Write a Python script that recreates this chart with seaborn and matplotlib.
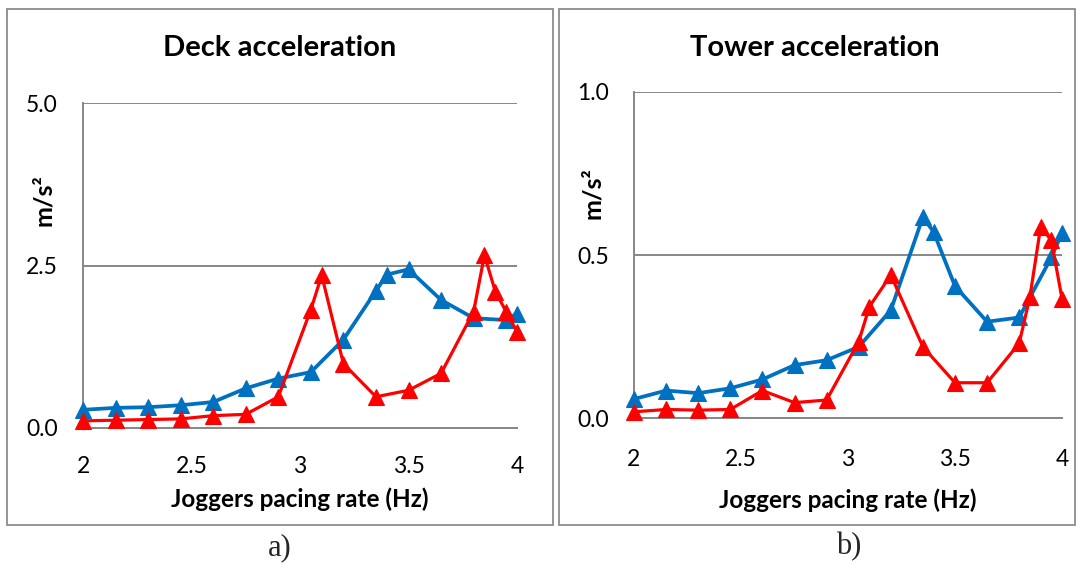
import matplotlib
matplotlib.use("Agg")
import matplotlib.pyplot as plt
import seaborn as sns
from matplotlib.patches import Rectangle

# ---- data ----
blue_x = [2.0, 2.15, 2.3, 2.45, 2.6, 2.75, 2.9, 3.05, 3.2, 3.35, 3.4, 3.5, 3.65, 3.8, 3.95, 4.0]
red_x = [2.0, 2.15, 2.3, 2.45, 2.6, 2.75, 2.9, 3.05, 3.1, 3.2, 3.35, 3.5, 3.65, 3.8, 3.85, 3.9, 3.95, 4.0]

deck_blue = [0.28, 0.31, 0.32, 0.35, 0.40, 0.61, 0.76, 0.86, 1.36, 2.11, 2.36, 2.44, 1.97, 1.69, 1.66, 1.76]
deck_red = [0.11, 0.12, 0.13, 0.14, 0.19, 0.21, 0.48, 1.82, 2.35, 0.99, 0.48, 0.58, 0.84, 1.79, 2.66, 2.10, 1.79, 1.48]

tower_blue = [0.059, 0.085, 0.077, 0.092, 0.119, 0.163, 0.178, 0.219, 0.331, 0.617, 0.571, 0.405, 0.296, 0.309, 0.493, 0.568]
tower_red = [0.020, 0.027, 0.025, 0.027, 0.085, 0.048, 0.056, 0.235, 0.342, 0.439, 0.219, 0.109, 0.109, 0.230, 0.372, 0.586, 0.546, 0.367]

titles = ["Deck acceleration", "Tower acceleration"]
xlabel = "Joggers pacing rate (Hz)"
ylabel = "m/s\u00b2"
x_ticks = [2, 2.5, 3, 3.5, 4]
x_ticklabels = ["2", "2.5", "3", "3.5", "4"]
deck_yticks = [0.0, 2.5, 5.0]
tower_yticks = [0.0, 0.5, 1.0]
panel_tags = ["a)", "b)"]

BLUE = "#0070C0"
RED = "#FF0000"
GRID = "#878787"

sns.set_theme(style="white")
plt.rcParams["font.family"] = ["Lato", "DejaVu Sans"]

fig = plt.figure(figsize=(10.8, 5.63), dpi=100)

# panel frames
fig.add_artist(Rectangle((7 / 1080, 1 - 525 / 563), 546 / 1080, 516 / 563,
                         transform=fig.transFigure, fill=False, edgecolor="#8c8c8c", linewidth=1.3))
fig.add_artist(Rectangle((559 / 1080, 1 - 525 / 563), 516 / 1080, 516 / 563,
                         transform=fig.transFigure, fill=False, edgecolor="#8c8c8c", linewidth=1.3))

ax1 = fig.add_axes([83 / 1080, 1 - 428 / 563, 434 / 1080, 325 / 563])
ax2 = fig.add_axes([634 / 1080, 1 - 418.3 / 563, 428 / 1080, 326.3 / 563])

specs = [
    (ax1, deck_blue, deck_red, deck_yticks, ["0.0", "2.5", "5.0"], 0.454, 1.169, -0.218, -0.092, 0.70, 20),
    (ax2, tower_blue, tower_red, tower_yticks, ["0.0", "0.5", "1.0"], 0.423, 1.135, -0.25, -0.096, 0.69, 22),
]

for i, (ax, yb, yr, yt, ytl, tx, ty, xly, ylx, yly, xpad) in enumerate(specs):
    sns.lineplot(x=blue_x, y=yb, ax=ax, color=BLUE, linewidth=2.7, marker="^",
                 markersize=11, markeredgecolor=BLUE, markeredgewidth=0.8, clip_on=False, zorder=3)
    sns.lineplot(x=red_x, y=yr, ax=ax, color=RED, linewidth=2.3, marker="^",
                 markersize=11, markeredgecolor=RED, markeredgewidth=0.8, clip_on=False, zorder=4)
    ax.set_xlim(2, 4)
    ax.set_ylim(yt[0], yt[-1])
    ax.set_xticks(x_ticks)
    ax.set_xticklabels(x_ticklabels)
    ax.set_yticks(yt)
    ax.set_yticklabels(ytl)
    ax.tick_params(axis="x", length=0, pad=xpad, labelsize=16.5, colors="black")
    ax.tick_params(axis="y", length=0, pad=18, labelsize=16.5, colors="black")
    ax.yaxis.grid(True, color=GRID, linewidth=1.4)
    ax.xaxis.grid(False)
    for s in ["top", "right"]:
        ax.spines[s].set_visible(False)
    for s in ["left", "bottom"]:
        ax.spines[s].set_color(GRID)
        ax.spines[s].set_linewidth(1.4)
    ax.set_facecolor("none")
    ax.text(tx, ty, titles[i], transform=ax.transAxes, ha="center", va="center",
            fontsize=21, fontweight="bold", color="black")
    ax.set_xlabel(xlabel, fontsize=17.5, fontweight="bold", color="black")
    ax.xaxis.set_label_coords(0.5, xly)
    ax.xaxis.label.set_va("center")
    ax.set_ylabel(ylabel, fontsize=18, fontweight="bold", color="black")
    ax.yaxis.set_label_coords(ylx, yly)
    ax.yaxis.label.set_va("center")

fig.text(280 / 1080, 1 - 548 / 563, panel_tags[0], ha="center", va="center",
         fontsize=22, family=["Liberation Serif", "DejaVu Serif"])
fig.text(849 / 1080, 1 - 547 / 563, panel_tags[1], ha="center", va="center",
         fontsize=22, family=["Liberation Serif", "DejaVu Serif"])

fig.savefig("out.png", dpi=100, facecolor="white")
